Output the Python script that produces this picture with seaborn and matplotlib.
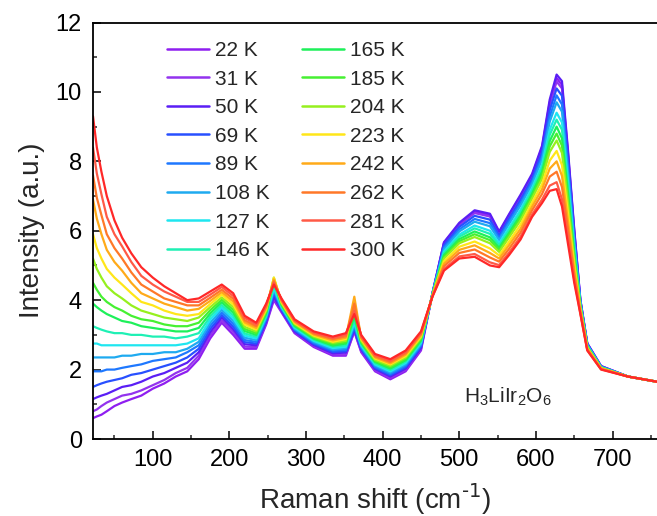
import matplotlib
matplotlib.use("Agg")
import matplotlib.pyplot as plt
import pandas as pd
import seaborn as sns
from matplotlib.lines import Line2D
from matplotlib.ticker import MultipleLocator

# Raman shift sampling points (cm^-1)
shift = [22, 27, 33, 40, 50, 60, 72, 85, 100, 115, 130, 145, 160,
         175, 190, 205, 220, 235,
         248, 258, 268, 285, 310, 335, 352, 363, 372, 390, 410, 430, 450,
         465, 480, 500, 520, 540, 552, 565, 580, 595, 608, 618, 627, 634,
         642, 650, 658, 667, 685, 720, 758]

temps = ["22 K", "31 K", "50 K", "69 K", "89 K", "108 K", "127 K", "146 K",
         "165 K", "185 K", "204 K", "223 K", "242 K", "262 K", "281 K", "300 K"]

colors = ["#8F1EF0", "#9333EE", "#5A1EF5", "#2850FF", "#1E78FF", "#1EAAF0",
          "#1EE6F0", "#1EF0B4", "#1EF05A", "#46F032", "#96F01E", "#FFE619",
          "#FFAA19", "#FF7828", "#FF5A46", "#FF2828"]

i_22K = [0.6, 0.65, 0.7, 0.8, 0.95, 1.05, 1.15, 1.25, 1.45, 1.6, 1.8, 1.95, 2.3,
         2.9, 3.35, 3.0, 2.6, 2.6,
         3.3, 4.0, 3.65, 3.05, 2.65, 2.4, 2.4, 3.1, 2.5, 1.95, 1.72, 1.95, 2.55,
         4.2, 5.65, 6.2, 6.55, 6.45, 5.95, 6.45, 7.0, 7.6, 8.4, 9.7, 10.4, 10.2,
         8.2, 6.0, 4.0, 2.75, 2.1, 1.8, 1.65]
i_31K = [0.8, 0.85, 0.95, 1.05, 1.15, 1.25, 1.3, 1.4, 1.55, 1.7, 1.9, 2.05, 2.4,
         2.99, 3.42, 3.08, 2.66, 2.65,
         3.34, 4.05, 3.68, 3.08, 2.68, 2.44, 2.44, 3.1, 2.53, 1.98, 1.76, 1.99, 2.59,
         4.2, 5.63, 6.17, 6.51, 6.41, 5.92, 6.42, 6.96, 7.56, 8.35, 9.62, 10.3, 10.1,
         8.12, 5.96, 3.99, 2.74, 2.1, 1.8, 1.65]
i_50K = [1.15, 1.2, 1.25, 1.3, 1.4, 1.5, 1.55, 1.65, 1.8, 1.9, 2.05, 2.2, 2.5,
         3.08, 3.5, 3.16, 2.73, 2.7,
         3.38, 4.1, 3.7, 3.1, 2.71, 2.47, 2.49, 3.15, 2.57, 2.02, 1.8, 2.03, 2.62,
         4.2, 5.67, 6.23, 6.59, 6.49, 5.98, 6.48, 7.04, 7.64, 8.45, 9.78, 10.5, 10.31,
         8.28, 6.05, 4.01, 2.76, 2.1, 1.8, 1.65]
i_69K = [1.5, 1.55, 1.6, 1.65, 1.7, 1.75, 1.85, 1.9, 2.0, 2.1, 2.2, 2.35, 2.6,
         3.17, 3.57, 3.24, 2.79, 2.75,
         3.42, 4.2, 3.73, 3.13, 2.74, 2.51, 2.53, 3.2, 2.6, 2.05, 1.84, 2.07, 2.66,
         4.19, 5.58, 6.11, 6.43, 6.32, 5.86, 6.35, 6.89, 7.49, 8.26, 9.47, 10.1, 9.89,
         7.97, 5.87, 3.96, 2.73, 2.08, 1.8, 1.65]
i_89K = [1.95, 1.95, 1.95, 2.0, 2.0, 2.05, 2.1, 2.15, 2.25, 2.3, 2.35, 2.5, 2.7,
         3.26, 3.64, 3.32, 2.85, 2.8,
         3.46, 4.25, 3.76, 3.16, 2.77, 2.55, 2.57, 3.25, 2.63, 2.08, 1.87, 2.11, 2.7,
         4.18, 5.52, 6.04, 6.34, 6.22, 5.79, 6.27, 6.8, 7.41, 8.14, 9.29, 9.9, 9.64,
         7.78, 5.76, 3.94, 2.72, 2.08, 1.8, 1.65]
i_108K = [2.35, 2.35, 2.35, 2.35, 2.35, 2.4, 2.4, 2.45, 2.45, 2.5, 2.5, 2.6, 2.8,
          3.35, 3.72, 3.4, 2.92, 2.85,
          3.5, 4.3, 3.78, 3.18, 2.8, 2.58, 2.62, 3.3, 2.67, 2.12, 1.91, 2.15, 2.73,
          4.18, 5.47, 5.98, 6.26, 6.13, 5.73, 6.2, 6.73, 7.34, 8.05, 9.14, 9.7, 9.43,
          7.63, 5.67, 3.91, 2.71, 2.08, 1.8, 1.65]
i_127K = [2.75, 2.75, 2.7, 2.7, 2.7, 2.7, 2.7, 2.7, 2.7, 2.7, 2.7, 2.75, 2.9,
          3.44, 3.79, 3.48, 2.98, 2.9,
          3.54, 4.35, 3.81, 3.21, 2.83, 2.62, 2.66, 3.35, 2.7, 2.15, 1.95, 2.19, 2.77,
          4.17, 5.4, 5.89, 6.15, 6.0, 5.64, 6.09, 6.61, 7.23, 7.9, 8.91, 9.4, 9.12,
          7.39, 5.54, 3.88, 2.69, 2.06, 1.8, 1.65]
i_146K = [3.25, 3.2, 3.15, 3.1, 3.05, 3.05, 3.0, 3.0, 2.95, 2.95, 2.9, 2.95, 3.05,
          3.53, 3.86, 3.56, 3.04, 2.95,
          3.58, 4.45, 3.84, 3.24, 2.86, 2.66, 2.7, 3.45, 2.73, 2.18, 1.99, 2.23, 2.81,
          4.16, 5.35, 5.83, 6.07, 5.91, 5.58, 6.02, 6.54, 7.16, 7.81, 8.76, 9.2, 8.91,
          7.24, 5.45, 3.85, 2.68, 2.06, 1.8, 1.65]
i_165K = [3.9, 3.8, 3.7, 3.6, 3.5, 3.4, 3.35, 3.25, 3.2, 3.15, 3.1, 3.1, 3.2,
          3.62, 3.94, 3.64, 3.11, 3.0,
          3.62, 4.55, 3.86, 3.26, 2.89, 2.69, 2.75, 3.55, 2.77, 2.22, 2.03, 2.27, 2.84,
          4.16, 5.3, 5.76, 5.98, 5.81, 5.51, 5.94, 6.45, 7.07, 7.7, 8.58, 9.0, 8.66,
          7.06, 5.34, 3.82, 2.66, 2.05, 1.8, 1.65]
i_185K = [4.5, 4.3, 4.1, 3.95, 3.8, 3.7, 3.55, 3.45, 3.4, 3.3, 3.25, 3.25, 3.35,
          3.71, 4.01, 3.72, 3.17, 3.05,
          3.66, 4.6, 3.89, 3.29, 2.92, 2.73, 2.79, 3.65, 2.8, 2.25, 2.07, 2.31, 2.88,
          4.15, 5.25, 5.7, 5.9, 5.73, 5.45, 5.88, 6.38, 7.0, 7.6, 8.43, 8.8, 8.45,
          6.9, 5.25, 3.8, 2.65, 2.05, 1.8, 1.65]
i_204K = [5.2, 4.9, 4.65, 4.4, 4.2, 4.05, 3.85, 3.7, 3.6, 3.5, 3.45, 3.4, 3.5,
          3.8, 4.08, 3.8, 3.23, 3.1,
          3.7, 4.65, 3.92, 3.32, 2.95, 2.77, 2.83, 3.8, 2.83, 2.28, 2.11, 2.35, 2.92,
          4.14, 5.2, 5.64, 5.82, 5.64, 5.39, 5.81, 6.3, 6.93, 7.5, 8.27, 8.6, 8.24,
          6.74, 5.16, 3.78, 2.64, 2.04, 1.8, 1.65]
i_223K = [5.9, 5.5, 5.2, 4.9, 4.65, 4.45, 4.2, 3.95, 3.85, 3.7, 3.6, 3.55, 3.6,
          3.89, 4.16, 3.88, 3.3, 3.15,
          3.74, 4.65, 3.94, 3.34, 2.98, 2.8, 2.88, 3.95, 2.87, 2.32, 2.15, 2.39, 2.95,
          4.13, 5.12, 5.54, 5.69, 5.49, 5.29, 5.69, 6.18, 6.81, 7.34, 8.02, 8.3, 7.89,
          6.48, 5.01, 3.74, 2.62, 2.04, 1.8, 1.65]
i_242K = [6.9, 6.35, 5.9, 5.45, 5.1, 4.85, 4.5, 4.2, 4.05, 3.9, 3.8, 3.7, 3.75,
          3.98, 4.23, 3.96, 3.36, 3.2,
          3.78, 4.6, 3.97, 3.37, 3.01, 2.84, 2.92, 4.1, 2.9, 2.35, 2.18, 2.43, 2.99,
          4.13, 5.05, 5.45, 5.58, 5.36, 5.2, 5.59, 6.06, 6.7, 7.2, 7.79, 8.0, 7.58,
          6.25, 4.88, 3.7, 2.6, 2.03, 1.8, 1.65]
i_262K = [7.6, 6.95, 6.45, 5.9, 5.5, 5.2, 4.8, 4.45, 4.25, 4.05, 3.95, 3.85, 3.85,
          4.07, 4.3, 4.04, 3.42, 3.25,
          3.82, 4.55, 4.0, 3.4, 3.04, 2.88, 2.96, 3.9, 2.93, 2.38, 2.22, 2.47, 3.03,
          4.12, 4.98, 5.36, 5.46, 5.23, 5.11, 5.48, 5.95, 6.59, 7.06, 7.56, 7.7, 7.26,
          6.02, 4.74, 3.66, 2.58, 2.02, 1.8, 1.65]
i_281K = [8.4, 7.65, 7.05, 6.4, 5.9, 5.55, 5.1, 4.7, 4.45, 4.25, 4.1, 3.95, 3.95,
          4.16, 4.38, 4.12, 3.49, 3.3,
          3.86, 4.5, 4.02, 3.42, 3.07, 2.91, 3.01, 3.7, 2.97, 2.42, 2.26, 2.51, 3.06,
          4.11, 4.9, 5.26, 5.33, 5.09, 5.01, 5.37, 5.83, 6.47, 6.9, 7.3, 7.4, 6.91,
          5.76, 4.59, 3.62, 2.56, 2.01, 1.8, 1.65]
i_300K = [9.3, 8.4, 7.7, 7.0, 6.3, 5.8, 5.35, 4.95, 4.65, 4.4, 4.2, 4.0, 4.05,
          4.25, 4.45, 4.2, 3.55, 3.35,
          3.9, 4.45, 4.05, 3.45, 3.1, 2.95, 3.05, 3.6, 3.0, 2.45, 2.3, 2.55, 3.1,
          4.1, 4.85, 5.2, 5.25, 5.0, 4.95, 5.3, 5.75, 6.4, 6.8, 7.15, 7.2, 6.7,
          5.6, 4.5, 3.6, 2.55, 2.0, 1.8, 1.65]

spectra = [i_22K, i_31K, i_50K, i_69K, i_89K, i_108K, i_127K, i_146K,
           i_165K, i_185K, i_204K, i_223K, i_242K, i_262K, i_281K, i_300K]

sns.set_style("ticks")
plt.rcParams["font.family"] = ["Liberation Sans", "DejaVu Sans"]
plt.rcParams["mathtext.default"] = "regular"

df = pd.concat(
    [pd.DataFrame({"shift": shift, "intensity": vals, "T": name})
     for name, vals in zip(temps, spectra)],
    ignore_index=True,
)

fig = plt.figure(figsize=(6.57, 5.16), dpi=100)
ax = fig.add_axes([93 / 657, 77 / 516, 564 / 657, 416.5 / 516])

sns.lineplot(data=df, x="shift", y="intensity", hue="T", hue_order=temps,
             palette=colors, sort=False, estimator=None, linewidth=1.6,
             ax=ax, legend=False)

ax.set_xlim(22, 758)
ax.set_ylim(0, 12)
ax.xaxis.set_major_locator(MultipleLocator(100))
ax.xaxis.set_minor_locator(MultipleLocator(50))
ax.yaxis.set_major_locator(MultipleLocator(2))
ax.yaxis.set_minor_locator(MultipleLocator(1))
ax.tick_params(which="major", direction="in", length=6, width=1.1,
               labelsize=17, colors="black")
ax.tick_params(axis="x", which="major", pad=7)
ax.tick_params(axis="y", which="major", pad=8)
ax.tick_params(which="minor", direction="in", length=3, width=1.1)
for side in ("left", "bottom", "top"):
    ax.spines[side].set_linewidth(1.3)
    ax.spines[side].set_color("black")
ax.spines["right"].set_visible(False)

ax.set_xlabel(r"Raman shift (cm$^{\text{-1}}$)", fontsize=20, labelpad=8)
ax.set_ylabel("Intensity (a.u.)", fontsize=20, labelpad=8)

handles = [Line2D([], [], color=c, lw=1.8) for c in colors]
fig.legend(handles, temps, loc="upper left", ncol=2, frameon=False,
           fontsize=15, bbox_to_anchor=(167 / 657, 1 - 41 / 516),
           borderpad=0, borderaxespad=0, handlelength=2.0,
           handletextpad=0.3, columnspacing=1.55, labelspacing=0.46)

ax.text(563, 1.04, "H$_3$LiIr$_2$O$_6$", fontsize=15, ha="center",
        va="baseline")

fig.savefig("out.png", dpi=100)
